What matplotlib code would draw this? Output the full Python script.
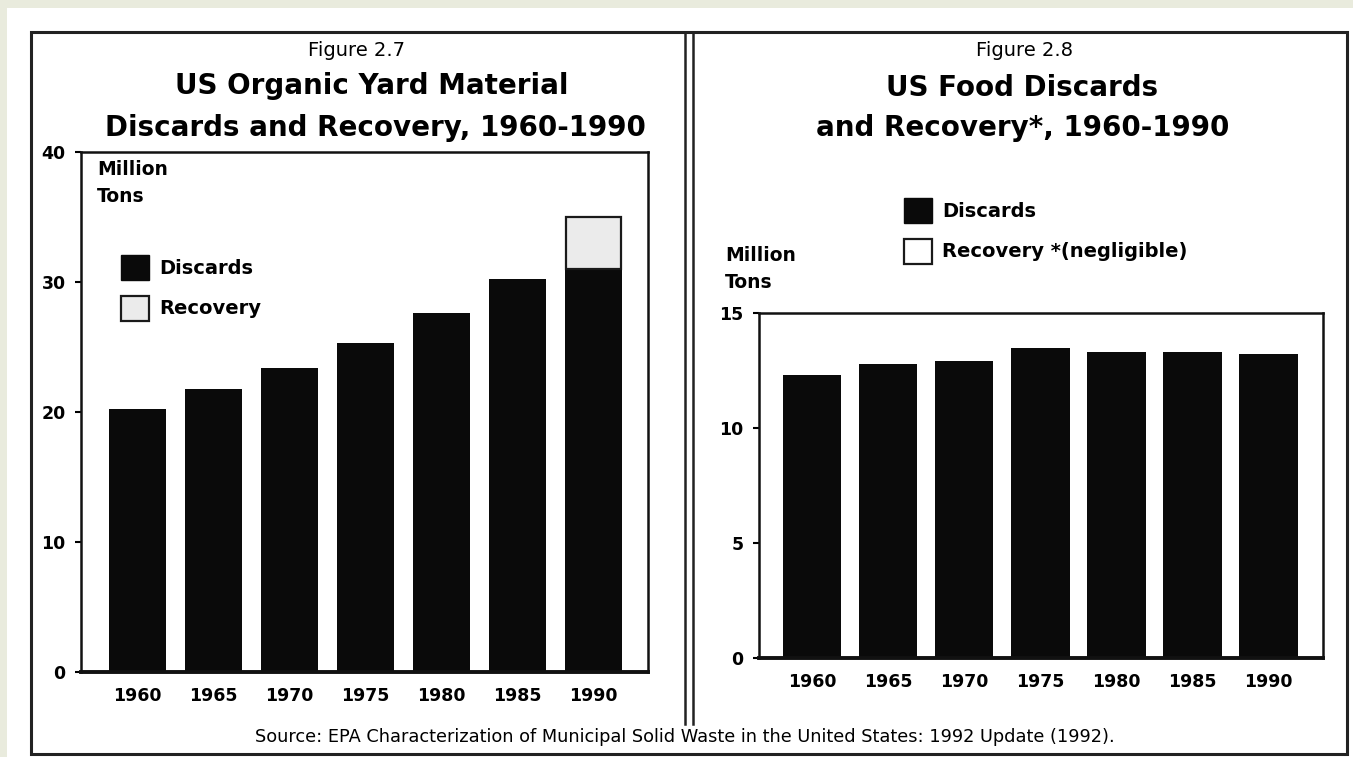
import matplotlib.pyplot as plt
from matplotlib.patches import Rectangle, Patch
from matplotlib.lines import Line2D
import numpy as np

# data
years = ['1960', '1965', '1970', '1975', '1980', '1985', '1990']
yard_discards = [20.2, 21.8, 23.4, 25.3, 27.6, 30.2, 31.0]
yard_recovery = [0, 0, 0, 0, 0, 0, 4.0]
food_discards = [12.3, 12.8, 12.9, 13.5, 13.3, 13.3, 13.2]
yard_ticks = [0, 10, 20, 30, 40]
food_ticks = [0, 5, 10, 15]

W, H = 1353, 757
fig = plt.figure(figsize=(W / 100, H / 100), dpi=100, facecolor='#e9ebdd')
plt.rcParams['font.family'] = 'DejaVu Sans'


def fx(x):
    return x / W


def fy(y):
    return 1 - y / H


# white sheet, outer frame and the double divider line
fig.patches.append(Rectangle((fx(7), 0), 1 - fx(7), fy(8), transform=fig.transFigure,
                             facecolor='white', edgecolor='none', zorder=-5))
fig.patches.append(Rectangle((fx(31), fy(754)), fx(1347) - fx(31), fy(32) - fy(754),
                             transform=fig.transFigure, facecolor='none',
                             edgecolor='#222222', linewidth=2.2, zorder=1))
for xd in (685, 693):
    fig.lines.append(Line2D([fx(xd), fx(xd)], [fy(32), fy(724)], transform=fig.transFigure,
                            color='#222222', linewidth=1.8))


def style_axes(ax, ticks):
    ax.set_facecolor('none')
    for s in ax.spines.values():
        s.set_linewidth(1.8)
        s.set_color('#111111')
    ax.spines['bottom'].set_linewidth(2.8)
    ax.set_yticks(ticks)
    ax.tick_params(axis='y', direction='out', length=4, width=1.5, pad=7,
                   labelsize=12.5)
    ax.tick_params(axis='x', length=0, pad=11, labelsize=12.5)
    for lab in ax.get_xticklabels() + ax.get_yticklabels():
        lab.set_fontweight('bold')


legend_kw = dict(loc='upper left', bbox_transform=fig.transFigure, frameon=False,
                 handlelength=1.45, handleheight=1.6, handletextpad=0.5,
                 labelspacing=0.8, borderpad=0, borderaxespad=0,
                 prop={'weight': 'bold', 'size': 14})

x = np.arange(len(years))

# ---- Figure 2.7 : yard material ----
ax1 = fig.add_axes([fx(81), fy(672), fx(648) - fx(81), fy(152) - fy(672)])
ax1.bar(x, yard_discards, width=0.75, color='#0a0a0a', edgecolor='#0a0a0a', linewidth=0)
b2 = ax1.bar(x, yard_recovery, width=0.73, bottom=yard_discards, color='#ebebeb',
             edgecolor='#1a1a1a', linewidth=1.6)
for rect, v in zip(b2, yard_recovery):
    if v == 0:
        rect.set_visible(False)
ax1.set_xlim(-0.74, 6.72)
ax1.set_ylim(0, 40)
ax1.set_xticks(x)
ax1.set_xticklabels(years)
style_axes(ax1, yard_ticks)
fig.text(fx(97), fy(160), 'Million\nTons', ha='left', va='top', fontsize=13.5,
         fontweight='bold', linespacing=1.55)
ax1.legend(handles=[Patch(facecolor='#0a0a0a', edgecolor='#0a0a0a', label='Discards'),
                    Patch(facecolor='#ebebeb', edgecolor='#1a1a1a', linewidth=1.6,
                          label='Recovery')],
           bbox_to_anchor=(fx(121), fy(255)), **legend_kw)

fig.text(fx(357), fy(50), 'Figure 2.7', ha='center', va='center', fontsize=14)
fig.text(fx(372), fy(86), 'US Organic Yard Material', ha='center', va='center',
         fontsize=20, fontweight='bold')
fig.text(fx(375), fy(128), 'Discards and Recovery, 1960-1990', ha='center', va='center',
         fontsize=20, fontweight='bold')

# ---- Figure 2.8 : food ----
ax2 = fig.add_axes([fx(759), fy(658), fx(1323) - fx(759), fy(313) - fy(658)])
ax2.bar(x, food_discards, width=0.77, color='#0a0a0a', edgecolor='#0a0a0a', linewidth=0)
ax2.set_xlim(-0.70, 6.72)
ax2.set_ylim(0, 15)
ax2.set_xticks(x)
ax2.set_xticklabels(years)
style_axes(ax2, food_ticks)
ax2.legend(handles=[Patch(facecolor='#0a0a0a', edgecolor='#0a0a0a', label='Discards'),
                    Patch(facecolor='white', edgecolor='#1a1a1a', linewidth=1.6,
                          label='Recovery *(negligible)')],
           bbox_to_anchor=(fx(904), fy(198)), **legend_kw)

fig.text(fx(725), fy(246), 'Million\nTons', ha='left', va='top', fontsize=13.5,
         fontweight='bold', linespacing=1.55)
fig.text(fx(1025), fy(50), 'Figure 2.8', ha='center', va='center', fontsize=14)
fig.text(fx(1022), fy(88), 'US Food Discards', ha='center', va='center',
         fontsize=20, fontweight='bold')
fig.text(fx(1023), fy(128), 'and Recovery*, 1960-1990', ha='center', va='center',
         fontsize=20, fontweight='bold')

fig.text(fx(685), fy(737),
         'Source: EPA Characterization of Municipal Solid Waste in the United States: '
         '1992 Update (1992).', ha='center', va='center', fontsize=12.8)

fig.savefig('out.png', dpi=100, facecolor=fig.get_facecolor())
